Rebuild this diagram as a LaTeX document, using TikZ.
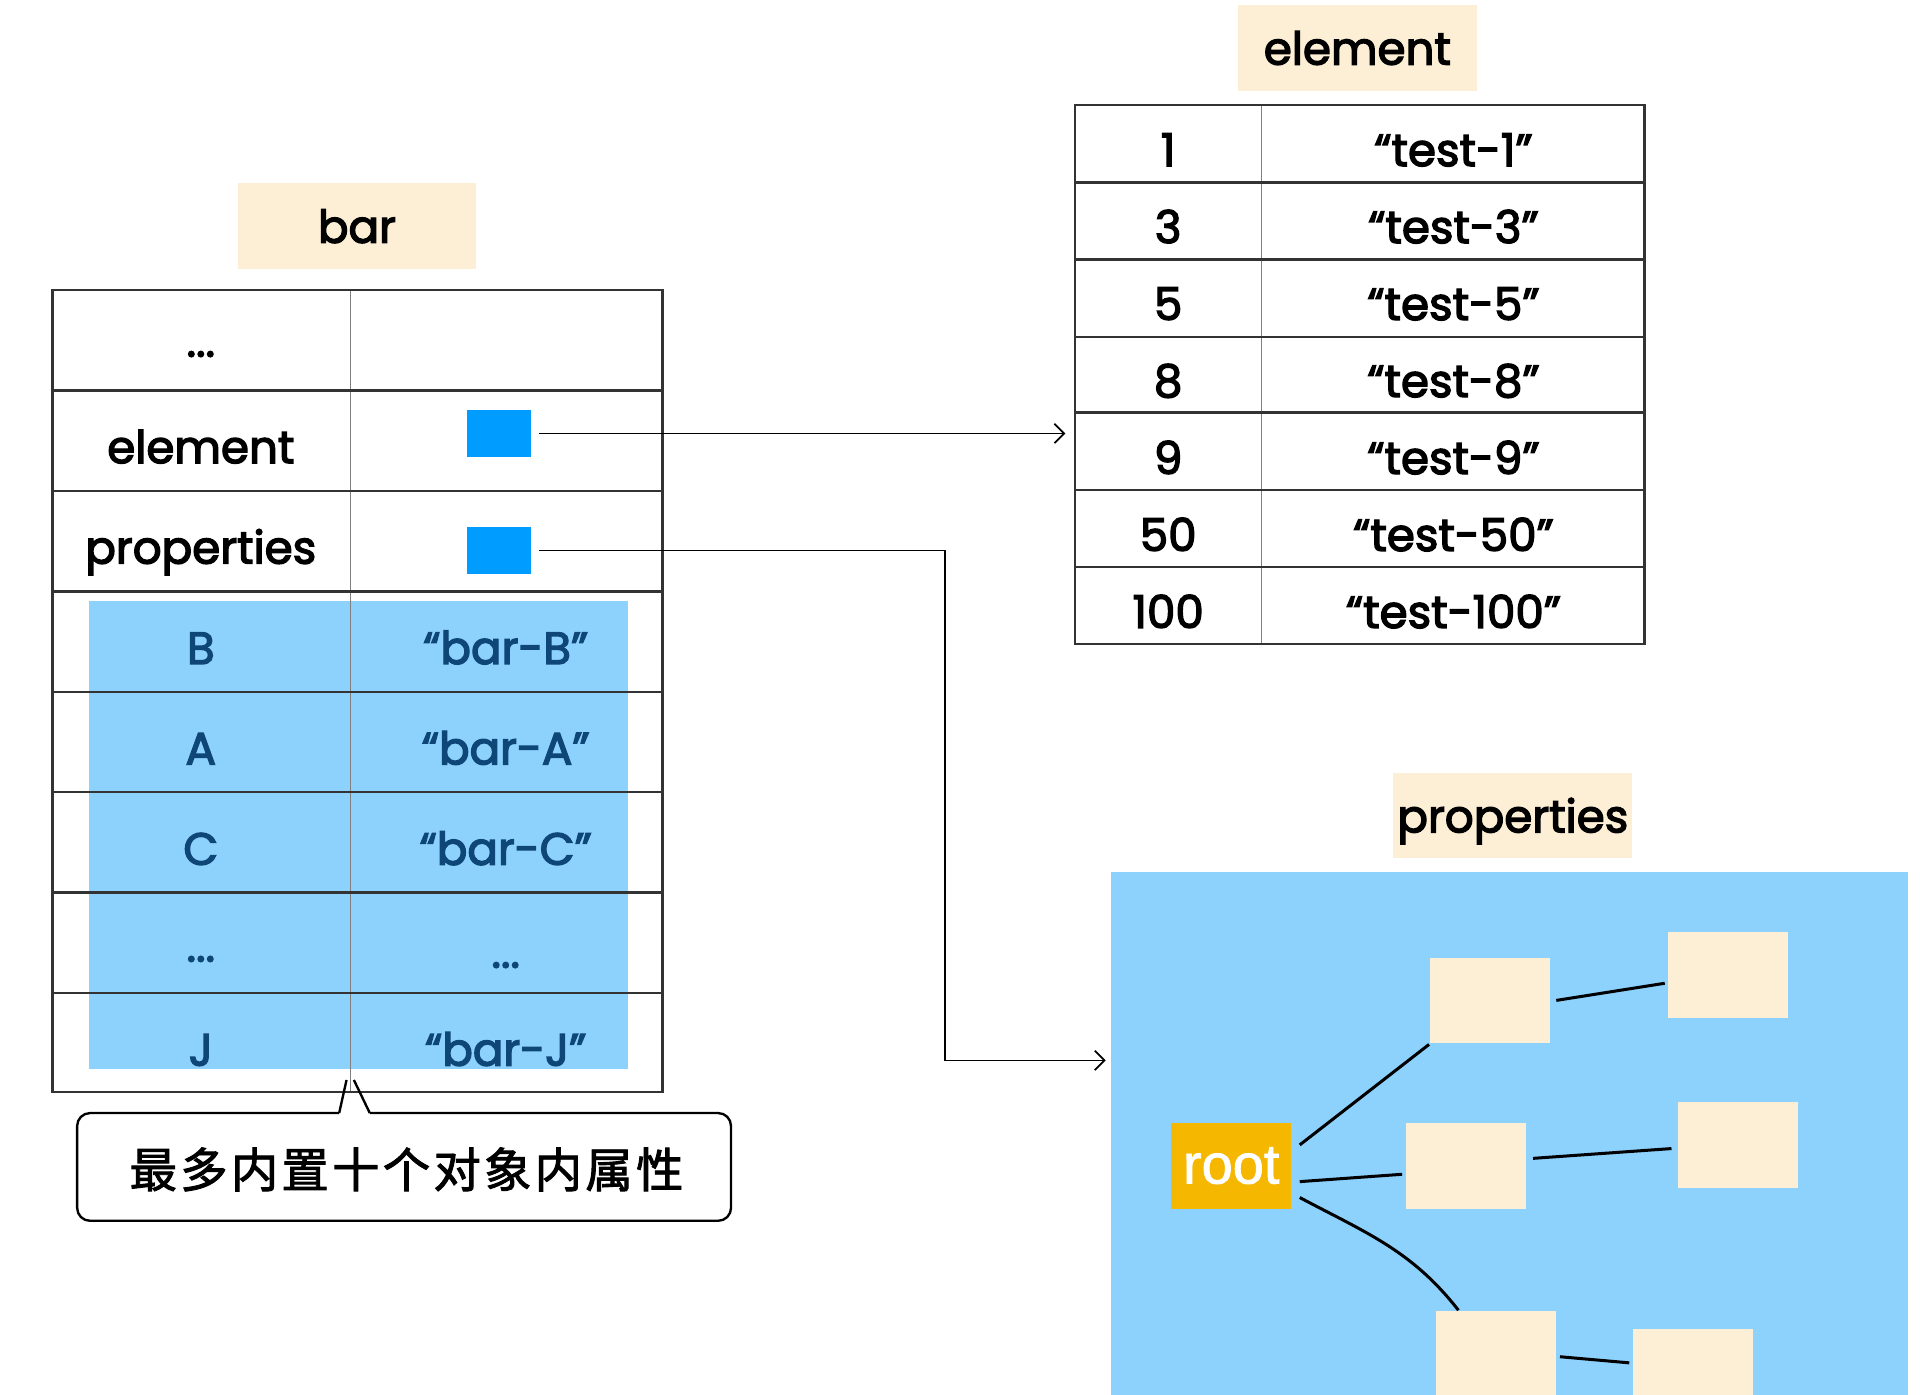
\documentclass[tikz,border=0pt]{standalone}
\usepackage{fontspec}
\usepackage{xcolor}
\usepackage{tikz}
\usetikzlibrary{arrows.meta}

\setmainfont{Poppins}[FakeBold=3]
\newfontfamily\cjkfont{Noto Sans CJK SC}[LetterSpace=7, FakeBold=2]
\newfontfamily\rootfont{Liberation Sans}[FakeBold=1.5]

\definecolor{cream}{HTML}{FDEFD5}
\definecolor{skyfill}{HTML}{8DD2FD}
\definecolor{ptrblue}{HTML}{009CFF}
\definecolor{inkblue}{HTML}{0D4677}
\definecolor{rootorange}{HTML}{F6B700}
\definecolor{gridline}{HTML}{333333}

\begin{document}
\begin{tikzpicture}[scale=2, line width=1.1pt,
    title/.style={fill=cream, minimum width=3.9cm, minimum height=1.4cm, inner sep=0pt, text height=0.55cm, text depth=0cm, font=\fontsize{21}{25}\selectfont},
    cell/.style={inner sep=0pt, text height=0.78cm, text depth=0.05cm, font=\fontsize{21}{25}\selectfont},
    ptr/.style={fill=ptrblue, minimum width=1.06cm, minimum height=0.76cm, inner sep=0pt},
    leaf/.style={fill=cream, minimum width=1.96cm, minimum height=1.4cm, inner sep=0pt},
    link/.style={line width=1.4pt, black},
    jump/.style={line width=0.8pt, shorten <=3pt, -{Straight Barb[length=4.5pt, width=9pt]}}]
        \useasboundingbox (0,0) rectangle (15.68,11.39);
        \fill[white] (0,0) rectangle (15.68,11.39);

        % bar 对象
        \node[title] (barTitle) at (2.915,9.545) {bar};
        % 对象内属性的底色
        \fill[skyfill] (0.73,2.66) rectangle (5.13,6.48);
        \draw[gray, line width=0.6pt] (2.86,9.02) -- (2.86,2.47);
        \draw[gridline] (0.43,2.47) rectangle (5.41,9.02);
        \draw[gridline] (0.43,8.20) -- (5.41,8.20) (0.43,7.38) -- (5.41,7.38)
            (0.43,6.56) -- (5.41,6.56) (0.43,5.74) -- (5.41,5.74)
            (0.43,4.92) -- (5.41,4.92) (0.43,4.10) -- (5.41,4.10)
            (0.43,3.28) -- (5.41,3.28);

        \node[cell] (barDots) at (1.64,8.66) {...};
        \node[cell] (barElem) at (1.64,7.79) {element};
        \node[ptr] (elemPtr) at (4.075,7.85) {};
        \node[cell] (barProps) at (1.64,6.97) {properties};
        \node[ptr] (propPtr) at (4.075,6.895) {};

        % 对象内属性
        \node[cell, inkblue] (keyB) at (1.64,6.15) {B};
        \node[cell, inkblue] (valB) at (4.13,6.15) {“bar-B”};
        \node[cell, inkblue] (keyA) at (1.64,5.33) {A};
        \node[cell, inkblue] (valA) at (4.13,5.33) {“bar-A”};
        \node[cell, inkblue] (keyC) at (1.64,4.51) {C};
        \node[cell, inkblue] (valC) at (4.13,4.51) {“bar-C”};
        \node[cell, inkblue] (keyDots) at (1.64,3.72) {...};
        \node[cell, inkblue] (valDots) at (4.13,3.67) {...};
        \node[cell, inkblue] (keyJ) at (1.64,2.87) {J};
        \node[cell, inkblue] (valJ) at (4.13,2.87) {“bar-J”};

        % 说明框
        \draw[rounded corners=6pt] (2.77,2.30) -- (0.63,2.30) -- (0.63,1.42) -- (5.97,1.42) -- (5.97,2.30) -- (3.02,2.30);
        \draw (2.77,2.30) -- (2.83,2.57) (3.02,2.30) -- (2.89,2.57);
        \node[font=\cjkfont\fontsize{22}{26}\selectfont] (note) at (3.32,1.84) {最多内置十个对象内属性};

        % element 数组
        \node[title] (elemTitle) at (11.085,11.00) {element};
        \draw[gray, line width=0.6pt] (10.30,10.53) -- (10.30,6.13);
        \draw[gridline] (8.78,6.13) rectangle (13.43,10.53);
        \draw[gridline] (8.78,9.90) -- (13.43,9.90) (8.78,9.27) -- (13.43,9.27)
            (8.78,8.64) -- (13.43,8.64) (8.78,8.02) -- (13.43,8.02)
            (8.78,7.39) -- (13.43,7.39) (8.78,6.76) -- (13.43,6.76);
        \node[cell] (idx1) at (9.54,10.216) {1};
        \node[cell] (str1) at (11.87,10.216) {“test-1”};
        \node[cell] (idx3) at (9.54,9.587) {3};
        \node[cell] (str3) at (11.87,9.587) {“test-3”};
        \node[cell] (idx5) at (9.54,8.959) {5};
        \node[cell] (str5) at (11.87,8.959) {“test-5”};
        \node[cell] (idx8) at (9.54,8.330) {8};
        \node[cell] (str8) at (11.87,8.330) {“test-8”};
        \node[cell] (idx9) at (9.54,7.701) {9};
        \node[cell] (str9) at (11.87,7.701) {“test-9”};
        \node[cell] (idx50) at (9.54,7.073) {50};
        \node[cell] (str50) at (11.87,7.073) {“test-50”};
        \node[cell] (idx100) at (9.54,6.444) {100};
        \node[cell] (str100) at (11.87,6.444) {“test-100”};

        % properties 树
        \node[title] (propTitle) at (12.355,4.73) {properties};
        \fill[skyfill] (9.07,0) rectangle (15.58,4.27);
        \node[leaf, fill=rootorange, text=white, font=\rootfont\fontsize{26}{30}\selectfont] (root) at (10.055,1.87) {root};
        \node[leaf] (n1) at (12.17,3.22) {};
        \node[leaf] (n2) at (14.115,3.43) {};
        \node[leaf] (n3) at (11.97,1.87) {};
        \node[leaf] (n4) at (14.19,2.04) {};
        \node[leaf] (n5) at (12.22,0.33) {};
        \node[leaf] (n6) at (13.825,0.19) {};

        \draw[link] ([shift={(0.06,0.17)}]root.east) -- (n1.south west);
        \draw[link] ([shift={(0.06,-0.13)}]root.east) -- ([shift={(-0.02,-0.07)}]n3.west);
        \draw[link] ([shift={(0.06,-0.26)}]root.east) to[out=-28, in=128] ([xshift=0.19cm]n5.north west);
        \draw[link] ([xshift=0.04cm]n1.east) -- ([shift={(-0.02,-0.07)}]n2.west);
        \draw[link] ([shift={(0.05,0.06)}]n3.east) -- ([shift={(-0.04,-0.03)}]n4.west);
        \draw[link] ([shift={(0.02,-0.02)}]n5.east) -- ([shift={(-0.02,0.07)}]n6.west);

        % 指针
        \coordinate (elemIn) at (8.70,7.85);
        \coordinate (propIn) at (9.03,2.73);
        \draw[jump] (elemPtr.east) -- (elemIn);
        \draw[jump] (propPtr.east) -- ++(3.37,0) |- (propIn);
    \end{tikzpicture}
\end{document}
